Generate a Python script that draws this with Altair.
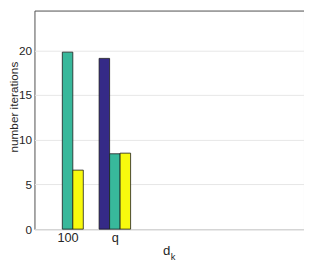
import altair as alt
import pandas as pd

categories = ["100", "q"]
series = ["s1", "s2", "s3"]
values_s1 = [None, 19.1]
values_s2 = [19.8, 8.43]
values_s3 = [6.6, 8.5]
colors = ["#352A87", "#38B89B", "#F8FA0E"]
y_ticks = [0, 5, 10, 15, 20]

rows = []
for si, (name, vals) in enumerate(zip(series, [values_s1, values_s2, values_s3])):
    for ci, (cat, v) in enumerate(zip(categories, vals)):
        if v is None:
            continue
        rows.append({"cat": cat, "ci": ci + 1, "series": name, "si": si, "value": v})
df = pd.DataFrame(rows)

bw = 0.222
xscale = alt.Scale(domain=[0.3, 6], nice=False, zero=False)
yscale = alt.Scale(domain=[0, 24.45], nice=False)

label_expr = "datum.value == 1 ? '100' : (datum.value == 2 ? 'q' : '')"

bars = alt.Chart(df).transform_calculate(
    xc="datum.ci + (datum.si - 1) * %f" % bw
).transform_calculate(
    x1="datum.xc - %f" % (bw / 2), x2="datum.xc + %f" % (bw / 2)
).mark_bar(stroke="#1a1a1a", strokeWidth=0.8).encode(
    x=alt.X("x1:Q", scale=xscale,
            axis=alt.Axis(values=[1, 2], labelExpr=label_expr, title=None,
                          grid=False, ticks=False, domain=False,
                          labelFont="Liberation Sans", labelFontSize=13,
                          labelColor="#262626", labelPadding=3)),
    x2="x2:Q",
    y=alt.Y("value:Q", scale=yscale,
            axis=alt.Axis(values=y_ticks, title="number iterations",
                          titleFont="Liberation Sans", titleFontSize=12,
                          titleFontWeight="normal", titleColor="#262626",
                          titleX=-21.5, titleY=98, titleBaseline="middle",
                          titleAlign="center",
                          grid=True, gridColor="#e6e6e6", gridWidth=1,
                          ticks=False, domain=False,
                          labelFont="Liberation Sans", labelFontSize=12,
                          labelColor="#262626", labelPadding=3)),
    y2=alt.datum(0),
    color=alt.Color("series:N", scale=alt.Scale(domain=series, range=colors), legend=None),
)

title_df = pd.DataFrame({"t": ["d"], "s": ["k"]})
xt = alt.Chart(title_df).mark_text(font="Liberation Sans", fontSize=13.5, color="#262626",
                                   align="center", baseline="middle").encode(
    text="t:N", x=alt.value(135), y=alt.value(245))
xs = alt.Chart(title_df).mark_text(font="Liberation Sans", fontSize=9.5, color="#262626",
                                   align="center", baseline="middle").encode(
    text="s:N", x=alt.value(141.5), y=alt.value(251.5))

chart = alt.layer(bars, xt, xs).properties(
    width=275, height=223,
    autosize=alt.AutoSizeParams(type="none"),
    padding={"left": 27, "top": 0, "right": 0, "bottom": 35},
).configure_view(stroke="#4d4d4d", strokeWidth=1)

chart.save("out.html", embed_options={"renderer": "svg", "actions": False})
